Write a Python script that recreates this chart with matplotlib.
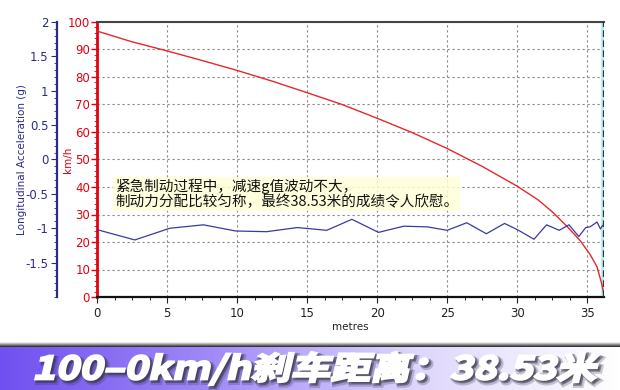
import matplotlib

matplotlib.use("Agg")
import matplotlib.pyplot as plt
import numpy as np
from matplotlib.font_manager import FontProperties
from matplotlib.patches import PathPatch
from matplotlib.textpath import TextPath
from matplotlib.transforms import Affine2D
from matplotlib.ticker import MultipleLocator

plt.rcParams["font.family"] = ["DejaVu Sans", "Noto Sans CJK SC"]

# speed trace (km/h) vs distance (m)
speed_dist = [0, 2.5, 5, 7.5, 10, 12.5, 15, 17.5, 20, 22.5, 25, 27.5, 30, 31.5,
              32.5, 33.5, 34.5, 35.2, 35.7, 36.0, 36.15, 36.2]
speed_kmh = [96.7, 92.8, 89.5, 86.0, 82.4, 78.5, 74.3, 70.0, 65.0, 59.8, 54.0, 47.5,
             40.3, 35.3, 31.0, 26.0, 20.5, 15.5, 11.0, 5.5, 2.0, 0.5]

# longitudinal acceleration (g) vs distance (m)
acc_dist = [0, 2.7, 5.2, 7.6, 9.9, 12.1, 14.3, 16.4, 18.2, 20.1, 21.9, 23.6, 25.0,
            26.4, 27.8, 29.1, 30.1, 31.2, 32.1, 33.0, 33.7, 34.4, 34.9, 35.2, 35.7,
            35.95, 36.1]
acc_g = [-1.02, -1.17, -1.0, -0.95, -1.04, -1.05, -0.99, -1.03, -0.87, -1.06, -0.97,
         -0.98, -1.03, -0.92, -1.08, -0.93, -1.03, -1.16, -0.95, -1.03, -0.95, -1.12,
         -0.99, -0.98, -0.91, -1.01, -0.96]

stop_dist = 36.2
acc_ticks = [2, 1.5, 1, 0.5, 0, -0.5, -1, -1.5]
note = "紧急制动过程中，减速g值波动不大，\n制动力分配比较匀称，最终38.53米的成绩令人欣慰。"
banner = "100–0km/h刹车距离：38.53米"

RED = "#e8262a"
AXRED = "#e00010"
BLUE = "#3a3a9e"
NAVY = "#2a2a8c"

fig = plt.figure(figsize=(6.2, 3.9), dpi=100)
ax = fig.add_axes([97 / 620, 1 - 297 / 390, 507 / 620, 275 / 390])

ax.plot(speed_dist, speed_kmh, color=RED, lw=1.0, zorder=4)
ax.set_xlim(0, stop_dist)
ax.set_ylim(0, 100)
ax.xaxis.set_major_locator(MultipleLocator(5))
ax.xaxis.set_minor_locator(MultipleLocator(1.25))
ax.yaxis.set_major_locator(MultipleLocator(10))
ax.yaxis.set_minor_locator(MultipleLocator(2))
ax.grid(True, which="major", color="#888888", ls=(0, (2, 2.5)), lw=0.8)
ax.tick_params(axis="y", colors=AXRED, labelsize=8.5, length=4, width=1, pad=1)
ax.tick_params(axis="y", which="minor", colors=AXRED, length=2)
ax.tick_params(axis="x", colors="#222222", labelsize=8.5, length=4, pad=3)
ax.tick_params(axis="x", which="minor", length=2)
ax.spines["left"].set_color(AXRED)
ax.spines["left"].set_linewidth(2)
ax.spines["bottom"].set_color("#111111")
ax.spines["bottom"].set_linewidth(1.6)
ax.spines["top"].set_color("#444444")
ax.spines["top"].set_linewidth(1.5)
ax.spines["right"].set_visible(False)
ax.set_xlabel("metres", fontsize=7.5, color="#222222", labelpad=2)
ax.set_ylabel("km/h", fontsize=7.5, color=AXRED, labelpad=-4)

# end-of-stop marker
ax.axvline(stop_dist, color="#aeeef5", lw=4, zorder=2)
ax.axvline(stop_dist, color="#333333", lw=1.6, ls=(0, (3, 1.5)), zorder=5)

# acceleration axis on the far left
ax2 = ax.twinx()
ax2.plot(acc_dist, acc_g, color=BLUE, lw=0.9, zorder=3)
ax2.set_ylim(-2, 2)
ax2.yaxis.tick_left()
ax2.yaxis.set_label_position("left")
ax2.spines["left"].set_position(("axes", -40 / 507))
ax2.spines["left"].set_visible(True)
ax2.spines["left"].set_color(NAVY)
ax2.spines["left"].set_linewidth(1.6)
for s in ("right", "top", "bottom"):
    ax2.spines[s].set_visible(False)
ax2.set_yticks(acc_ticks)
ax2.set_yticklabels([f"{t:g}" for t in acc_ticks])
ax2.yaxis.set_minor_locator(MultipleLocator(0.1))
ax2.tick_params(axis="y", colors=NAVY, labelsize=8.5, length=4, pad=2)
ax2.tick_params(axis="y", which="minor", colors=NAVY, length=2)
ax2.set_ylabel("Longitudinal Acceleration (g)", fontsize=7.5, color=NAVY, labelpad=-1)

ax2.text(1.3, -0.28, note, fontsize=10.5, color="#111111", va="top", ha="left",
         family=["Noto Sans CJK SC", "DejaVu Sans"], linespacing=1.05, zorder=6,
         bbox=dict(boxstyle="square,pad=0.12", fc="#ffffd8", ec="none", alpha=0.85))

# bottom banner with gradient and slanted white title
bx = fig.add_axes([0, 0, 1, 48 / 390])
bx.set_xlim(0, 620)
bx.set_ylim(0, 48)
bx.axis("off")
grad = np.linspace(0, 1, 256)[None, :]
cmap = matplotlib.colors.LinearSegmentedColormap.from_list(
    "band", ["#7050f0", "#9f88f7", "#ddd5fc", "#ffffff"])
bx.imshow(grad, cmap=cmap, extent=(0, 620, 0, 45), aspect="auto", zorder=0)
shade = np.linspace(0, 1, 32)[:, None]
bx.imshow(shade, cmap=matplotlib.colors.LinearSegmentedColormap.from_list(
    "edge", ["#ffffff", "#222222"]), extent=(0, 620, 43, 48), aspect="auto", zorder=1)

tp = TextPath((0, 0), banner, size=30,
              prop=FontProperties(family="Noto Sans CJK SC", weight="bold"))
ext = tp.get_extents()
tr = (Affine2D().translate(-ext.x0, -ext.y0).scale(560 / ext.width, 33 / ext.height)
      .skew_deg(13, 0).translate(34, 5))
path = tr.transform_path(tp)
for dx, dy, a, w in ((3, -3, 0.25, 4), (2, -2, 0.45, 2.5)):
    bx.add_patch(PathPatch(Affine2D().translate(dx, dy).transform_path(path),
                           fc="#333344", ec="#333344", lw=w, alpha=a, zorder=2))
bx.add_patch(PathPatch(path, fc="white", ec="white", lw=1.6, zorder=3))
bx.add_patch(PathPatch(path, fc="white", ec="none", zorder=4))

fig.savefig("out.png", dpi=100)
